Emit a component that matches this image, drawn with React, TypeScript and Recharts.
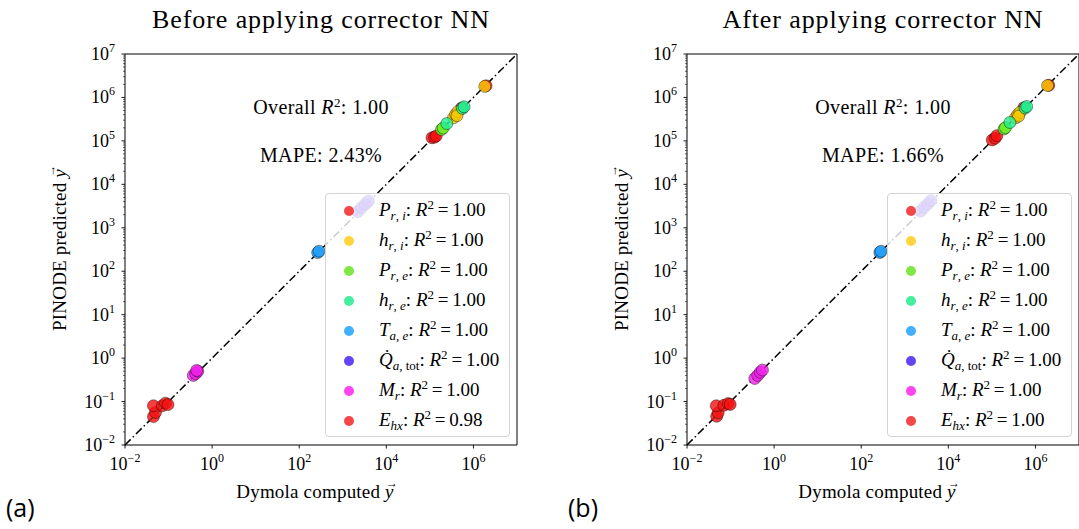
import React from "react";
import {
  ScatterChart,
  Scatter,
  XAxis,
  YAxis,
  ReferenceArea,
  ReferenceLine,
  Legend,
} from "recharts";

const FONT = '"Liberation Serif", "DejaVu Serif", serif';

// series order, colours and legend symbols
const seriesKeys = ["Pri", "hri", "Pre", "hre", "Tae", "Qa", "Mr", "Ehx"];
const seriesColors = ["#f41010", "#f7c800", "#66ee20", "#20f090", "#1e9cf8", "#5a30ff", "#f020e8", "#f41010"];
const legendColors = ["#f44848", "#ffd43c", "#80e844", "#44f0a0", "#40b0ff", "#6444f4", "#ff44f0", "#f44848"];

// x = Dymola computed, y = PINODE predicted
const before = {
  Pri: [[1.12e5, 1.18e5], [1.28e5, 1.22e5], [1.4e5, 1.3e5], [5.3e5, 5.7e5], [1.95e6, 1.85e6]],
  hri: [[3.5e5, 3.4e5], [3.9e5, 4.1e5], [4.4e5, 4.7e5], [4.2e5, 3.8e5], [1.82e6, 1.8e6]],
  Pre: [[1.85e5, 1.82e5], [2.02e5, 1.98e5]],
  hre: [[2.45e5, 2.5e5], [5.6e5, 5.6e5], [6.1e5, 6.1e5]],
  Tae: [[265, 268], [285, 290]],
  Qa: [[2200, 2350], [2700, 2900], [3300, 3500], [3900, 4150]],
  Mr: [[0.37, 0.4], [0.42, 0.44], [0.47, 0.5], [0.44, 0.52]],
  Ehx: [[0.045, 0.045], [0.05, 0.056], [0.045, 0.08], [0.072, 0.08], [0.085, 0.092], [0.097, 0.085]],
};

const after = {
  Pri: [[1.02e5, 1.05e5], [1.18e5, 1.15e5], [1.3e5, 1.32e5], [5.4e5, 5.8e5], [2.02e6, 1.9e6]],
  hri: [[3.5e5, 3.4e5], [3.9e5, 4.0e5], [4.4e5, 4.5e5], [4.1e5, 3.7e5], [1.9e6, 1.88e6]],
  Pre: [[1.9e5, 1.88e5], [2.05e5, 2.02e5]],
  hre: [[2.6e5, 2.65e5], [5.8e5, 5.7e5], [6.3e5, 6.2e5]],
  Tae: [[268, 270], [285, 288]],
  Qa: [[2300, 2400], [2800, 2950], [3400, 3550], [4000, 4200]],
  Mr: [[0.36, 0.34], [0.42, 0.4], [0.48, 0.47], [0.54, 0.53]],
  Ehx: [[0.048, 0.046], [0.052, 0.055], [0.047, 0.08], [0.07, 0.082], [0.088, 0.09], [0.098, 0.086]],
};

const r2Before = ["1.00", "1.00", "1.00", "1.00", "1.00", "1.00", "1.00", "0.98"];
const r2After = ["1.00", "1.00", "1.00", "1.00", "1.00", "1.00", "1.00", "1.00"];

const domainMin = 0.01;
const domainMax = 1e7;
const xTicks = [0.01, 1, 100, 1e4, 1e6];
const yMajor = [0.01, 0.1, 1, 10, 100, 1e3, 1e4, 1e5, 1e6, 1e7];
const yTicks = yMajor.concat(
  yMajor.slice(0, -1).flatMap((d) => [2, 3, 4, 5, 6, 7, 8, 9].map((m) => +(d * m).toPrecision(3)))
);

function isMajor(v: number) {
  const e = Math.log10(v);
  return Math.abs(e - Math.round(e)) < 1e-6;
}

function expText(v: number) {
  const e = Math.round(Math.log10(v));
  return e < 0 ? "\u2212" + -e : String(e);
}

function YTick(props: any) {
  const { x, y, payload } = props;
  const major = isMajor(payload.value);
  return (
    <g>
      <line x1={x - (major ? 3.5 : 2)} x2={x} y1={y} y2={y} stroke="#000" strokeWidth={major ? 0.9 : 0.6} />
      {major && (
        <text x={x - 10} y={y + 6} textAnchor="end" fontFamily={FONT} fontSize={18} fill="#000">
          10
          <tspan dy={-8} fontSize={12}>
            {expText(payload.value)}
          </tspan>
        </text>
      )}
    </g>
  );
}

function XTick(props: any) {
  const { x, y, payload } = props;
  return (
    <g>
      <line x1={x} x2={x} y1={y} y2={y + 3.5} stroke="#000" strokeWidth={0.9} />
      <text x={x} y={y + 25} textAnchor="middle" fontFamily={FONT} fontSize={18} fill="#000">
        10
        <tspan dy={-8} fontSize={12}>
          {expText(payload.value)}
        </tspan>
      </text>
    </g>
  );
}

const subStyle: React.CSSProperties = { fontSize: 13, position: "relative", top: 4 };
const supStyle: React.CSSProperties = { fontSize: 13, position: "relative", top: -7 };

function Sub({ children }: { children: React.ReactNode }) {
  return <span style={subStyle}>{children}</span>;
}

const symbols = [
  <><i>P</i><Sub><i>r</i>, <i>i</i></Sub></>,
  <><i>h</i><Sub><i>r</i>, <i>i</i></Sub></>,
  <><i>P</i><Sub><i>r</i>, <i>e</i></Sub></>,
  <><i>h</i><Sub><i>r</i>, <i>e</i></Sub></>,
  <><i>T</i><Sub><i>a</i>, <i>e</i></Sub></>,
  <><i>Q{"\u0307"}</i><Sub><i>a</i>, tot</Sub></>,
  <><i>M</i><Sub><i>r</i></Sub></>,
  <><i>E</i><Sub><i>hx</i></Sub></>,
];

function LegendBox({ r2 }: { r2: string[] }) {
  return (
    <div
      style={{
        width: 185,
        height: 244,
        boxSizing: "border-box",
        paddingTop: 2,
        background: "rgba(255,255,255,0.8)",
        border: "1px solid #d4d4d4",
        borderRadius: 4,
        fontFamily: FONT,
        fontSize: 19,
        color: "#000",
        textAlign: "left",
      }}
    >
      {seriesKeys.map((k, i) => (
        <div key={k} style={{ display: "flex", alignItems: "center", height: 30, whiteSpace: "nowrap" }}>
          <span
            style={{
              display: "inline-block",
              flex: "0 0 10px",
              marginLeft: 18,
              width: 10,
              height: 10,
              borderRadius: 5,
              background: legendColors[i],
            }}
          />
          <span style={{ display: "inline-block", marginLeft: 25, lineHeight: "22px" }}>
            {symbols[i]}: <i>R</i>
            <span style={supStyle}>2</span>
            {"\u2009=\u2009"}
            {r2[i]}
          </span>
        </div>
      ))}
    </div>
  );
}

function VecY() {
  return (
    <span style={{ position: "relative", display: "inline-block" }}>
      <i>y</i>
      <span style={{ position: "absolute", left: 1, top: -9, fontSize: 12 }}>{"\u2192"}</span>
    </span>
  );
}

const PLOT_L = 125;
const PLOT_R = 517;
const CX = (PLOT_L + PLOT_R) / 2;

function Panel(props: {
  left: number;
  width: number;
  title: string;
  mape: string;
  letter: string;
  data: Record<string, number[][]>;
  r2: string[];
}) {
  const { left, width, title, mape, letter, data, r2 } = props;
  const center: React.CSSProperties = {
    position: "absolute",
    left: CX,
    transform: "translateX(-50%)",
    whiteSpace: "nowrap",
    fontFamily: FONT,
    color: "#000",
  };
  return (
    <div style={{ position: "absolute", left, top: 0, width, height: 529 }}>
      <ScatterChart width={width} height={529} margin={{ top: 54, right: width - PLOT_R, bottom: 0, left: 0 }}>
        <XAxis
          type="number"
          dataKey="x"
          scale="log"
          domain={[domainMin, domainMax]}
          allowDataOverflow
          ticks={xTicks}
          interval={0}
          height={84}
          axisLine={false}
          tickLine={false}
          tickSize={0}
          tickMargin={0}
          tick={<XTick />}
        />
        <YAxis
          type="number"
          dataKey="y"
          scale="log"
          domain={[domainMin, domainMax]}
          allowDataOverflow
          ticks={yTicks}
          interval={0}
          width={PLOT_L}
          axisLine={false}
          tickLine={false}
          tickSize={0}
          tickMargin={0}
          tick={<YTick />}
        />
        <ReferenceArea
          x1={domainMin}
          x2={domainMax}
          y1={domainMin}
          y2={domainMax}
          fill="none"
          stroke="#000"
          strokeWidth={1}
          ifOverflow="extendDomain"
        />
        {seriesKeys.map((k, i) => (
          <Scatter
            key={k}
            name={k}
            data={data[k].map(([x, y]) => ({ x, y }))}
            fill={seriesColors[i]}
            isAnimationActive={false}
            shape={(p: any) => (
              <circle
                cx={p.cx}
                cy={p.cy}
                r={6}
                fill={seriesColors[i]}
                fillOpacity={0.8}
                stroke="#000"
                strokeOpacity={0.4}
                strokeWidth={1}
              />
            )}
          />
        ))}
        <ReferenceLine
          segment={[
            { x: domainMin, y: domainMin },
            { x: domainMax, y: domainMax },
          ]}
          stroke="#000"
          strokeWidth={1.5}
          strokeDasharray="8 3 1.5 3"
        />
        <Legend
          layout="vertical"
          align="center"
          verticalAlign="middle"
          wrapperStyle={{ left: 325, top: 193, width: 185, height: 244 }}
          content={() => <LegendBox r2={r2} />}
        />
      </ScatterChart>
      <div style={{ ...center, top: 5, fontSize: 26, lineHeight: "30px", letterSpacing: 0.9 }}>{title}</div>
      <div style={{ ...center, top: 96, fontSize: 20, lineHeight: "22px", letterSpacing: 0.4 }}>
        Overall <i>R</i>
        <span style={supStyle}>2</span>: 1.00
      </div>
      <div style={{ ...center, top: 144, fontSize: 20, lineHeight: "22px", letterSpacing: 0.4 }}>MAPE: {mape}</div>
      <div style={{ ...center, left: CX - 6, top: 481, fontSize: 19, lineHeight: "22px", letterSpacing: 0.2 }}>
        Dymola computed <VecY />
      </div>
      <div
        style={{
          position: "absolute",
          left: 60,
          top: 250,
          transform: "translate(-50%, -50%) rotate(-90deg)",
          whiteSpace: "nowrap",
          fontFamily: FONT,
          fontSize: 19,
          lineHeight: "22px",
          letterSpacing: 0.2,
          color: "#000",
        }}
      >
        PINODE predicted <VecY />
      </div>
      <div
        style={{
          position: "absolute",
          left: 6,
          top: 492,
          fontFamily: '"Open Sans", "Noto Sans", sans-serif',
          fontSize: 25,
          lineHeight: "30px",
          color: "#000",
        }}
      >
        {letter}
      </div>
    </div>
  );
}

export default function App() {
  return (
    <div style={{ position: "absolute", left: 0, top: 0, width: 1079, height: 529, background: "#fff" }}>
      <Panel left={0} width={540} title="Before applying corrector NN" mape="2.43%" letter="(a)" data={before} r2={r2Before} />
      <Panel left={562} width={517} title="After applying corrector NN" mape="1.66%" letter="(b)" data={after} r2={r2After} />
    </div>
  );
}
